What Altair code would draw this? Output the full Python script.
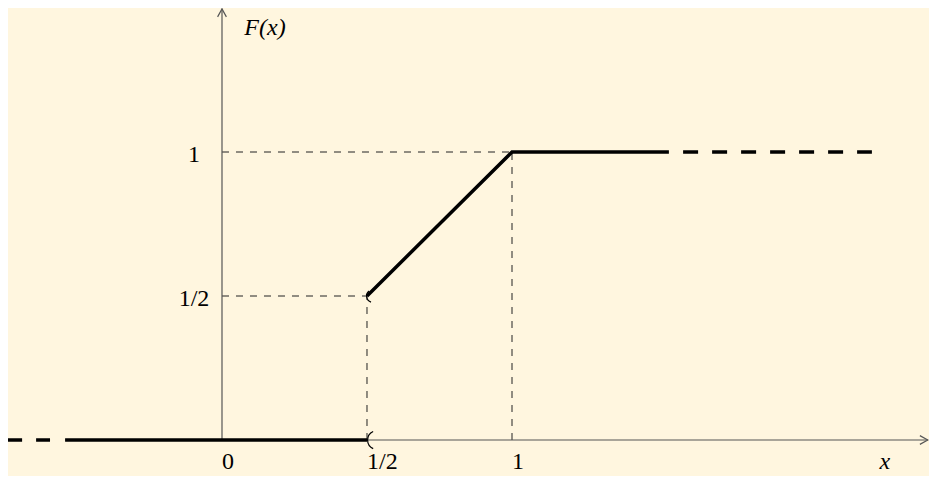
import altair as alt
import pandas as pd

# ---- data ----
solid_seg = ["left", "left", "ramp", "ramp", "ramp"]
solid_x = [-0.541, 0.5, 0.5, 1.0, 1.541]
solid_y = [0.0, 0.0, 0.5, 1.0, 1.0]

dash_seg = ["left", "left", "right", "right"]
dash_x = [-0.741, -0.593, 1.590, 2.241]
dash_y = [0.0, 0.0, 1.0, 1.0]

guide_x = [0.0, 0.5, 0.0, 1.0]
guide_x2 = [0.5, 0.5, 1.0, 1.0]
guide_y = [0.5, 0.0, 1.0, 0.0]
guide_y2 = [0.5, 0.5, 1.0, 1.0]

open_big_x = [0.5]
open_big_y = [0.0]
open_small_x = [0.5]
open_small_y = [0.5]

xtick_vals = [0.0, 0.5, 1.0]
xtick_labels = ["0", "1/2", "1"]
ytick_vals = [0.5, 1.0]
ytick_labels = ["1/2", "1"]

axis_x_start = -0.541
axis_x_end = 2.434
axis_y_end = 1.497

# ---- styling ----
BG = "#FFF6DF"
FONT = "Liberation Serif"
FS = 24
xs = alt.Scale(domain=[-0.7379, 2.4379], nice=False, zero=False)
ys = alt.Scale(domain=[-0.125, 1.5], nice=False, zero=False)


def X(f):
    return alt.X(f, type="quantitative", scale=xs, axis=None)


def Y(f):
    return alt.Y(f, type="quantitative", scale=ys, axis=None)


solid_df = pd.DataFrame({"seg": solid_seg, "x": solid_x, "y": solid_y})
dash_df = pd.DataFrame({"seg": dash_seg, "x": dash_x, "y": dash_y})
guide_df = pd.DataFrame({"x": guide_x, "x2": guide_x2, "y": guide_y, "y2": guide_y2})
axes_df = pd.DataFrame({
    "x": [axis_x_start, 0.0], "x2": [axis_x_end, 0.0],
    "y": [0.0, 0.0], "y2": [0.0, axis_y_end],
})
arrow_x_df = pd.DataFrame({"x": [axis_x_end], "y": [0.0]})
arrow_y_df = pd.DataFrame({"x": [0.0], "y": [axis_y_end]})
xtick_df = pd.DataFrame({"x": xtick_vals, "y": [0.0] * len(xtick_vals), "label": xtick_labels})
ytick_df = pd.DataFrame({"x": [0.0] * len(ytick_vals), "y": ytick_vals, "label": ytick_labels})

guides = alt.Chart(guide_df).mark_rule(
    color="#222222", strokeWidth=1, strokeDash=[7, 7]
).encode(x=X("x"), x2="x2", y=Y("y"), y2="y2")

axes = alt.Chart(axes_df).mark_rule(color="#555555", strokeWidth=1.2).encode(
    x=X("x"), x2="x2", y=Y("y"), y2="y2"
)

ARROW = "M -1 -0.55 L 0 0 L -1 0.55"
arrow_x = alt.Chart(arrow_x_df).mark_point(
    shape=ARROW, size=256, filled=False, color="#555555", strokeWidth=1.2, opacity=1
).encode(x=X("x"), y=Y("y"))
arrow_y = alt.Chart(arrow_y_df).mark_point(
    shape=ARROW, size=256, filled=False, color="#555555", strokeWidth=1.2, opacity=1, angle=270
).encode(x=X("x"), y=Y("y"))

solid = alt.Chart(solid_df).mark_line(
    color="black", strokeWidth=3.5, strokeCap="butt", strokeJoin="miter"
).encode(x=X("x"), y=Y("y"), detail="seg:N")

dashed = alt.Chart(dash_df).mark_line(
    color="black", strokeWidth=3.5, strokeCap="butt", strokeDash=[15, 14]
).encode(x=X("x"), y=Y("y"), detail="seg:N")

open_big = alt.Chart(pd.DataFrame({"x": open_big_x, "y": open_big_y})).mark_arc(
    color="black", radius=10, radius2=8.8, theta=3.56, theta2=5.86, xOffset=10
).encode(x=X("x"), y=Y("y"))

open_small = alt.Chart(pd.DataFrame({"x": open_small_x, "y": open_small_y})).mark_arc(
    color="black", radius=7, radius2=5.9, theta=3.45, theta2=5.6, xOffset=6
).encode(x=X("x"), y=Y("y"))

xticks = alt.Chart(xtick_df).mark_text(
    align="left", baseline="middle", dy=22, font=FONT, fontSize=FS, color="black"
).encode(x=X("x"), y=Y("y"), text="label:N")

yticks = alt.Chart(ytick_df).mark_text(
    align="center", baseline="middle", dx=-28, dy=3, font=FONT, fontSize=FS, color="black"
).encode(x=X("x"), y=Y("y"), text="label:N")

flabel = alt.Chart(arrow_y_df).mark_text(
    align="center", baseline="middle", dx=43, dy=19, font=FONT, fontSize=FS,
    fontStyle="italic", color="black", text="F(x)"
).encode(x=X("x"), y=Y("y"))

xlabel = alt.Chart(arrow_x_df).mark_text(
    align="center", baseline="middle", dx=-43, dy=22, font=FONT, fontSize=FS,
    fontStyle="italic", color="black", text="x"
).encode(x=X("x"), y=Y("y"))

chart = alt.layer(
    guides, axes, arrow_x, arrow_y, solid, dashed, open_big, open_small,
    xticks, yticks, flabel, xlabel
).properties(
    width=921, height=468, background=BG, padding=0,
    autosize=alt.AutoSizeParams(type="none")
).configure_view(stroke=None)

chart.save("out.html", embed_options={"renderer": "svg", "actions": False})
